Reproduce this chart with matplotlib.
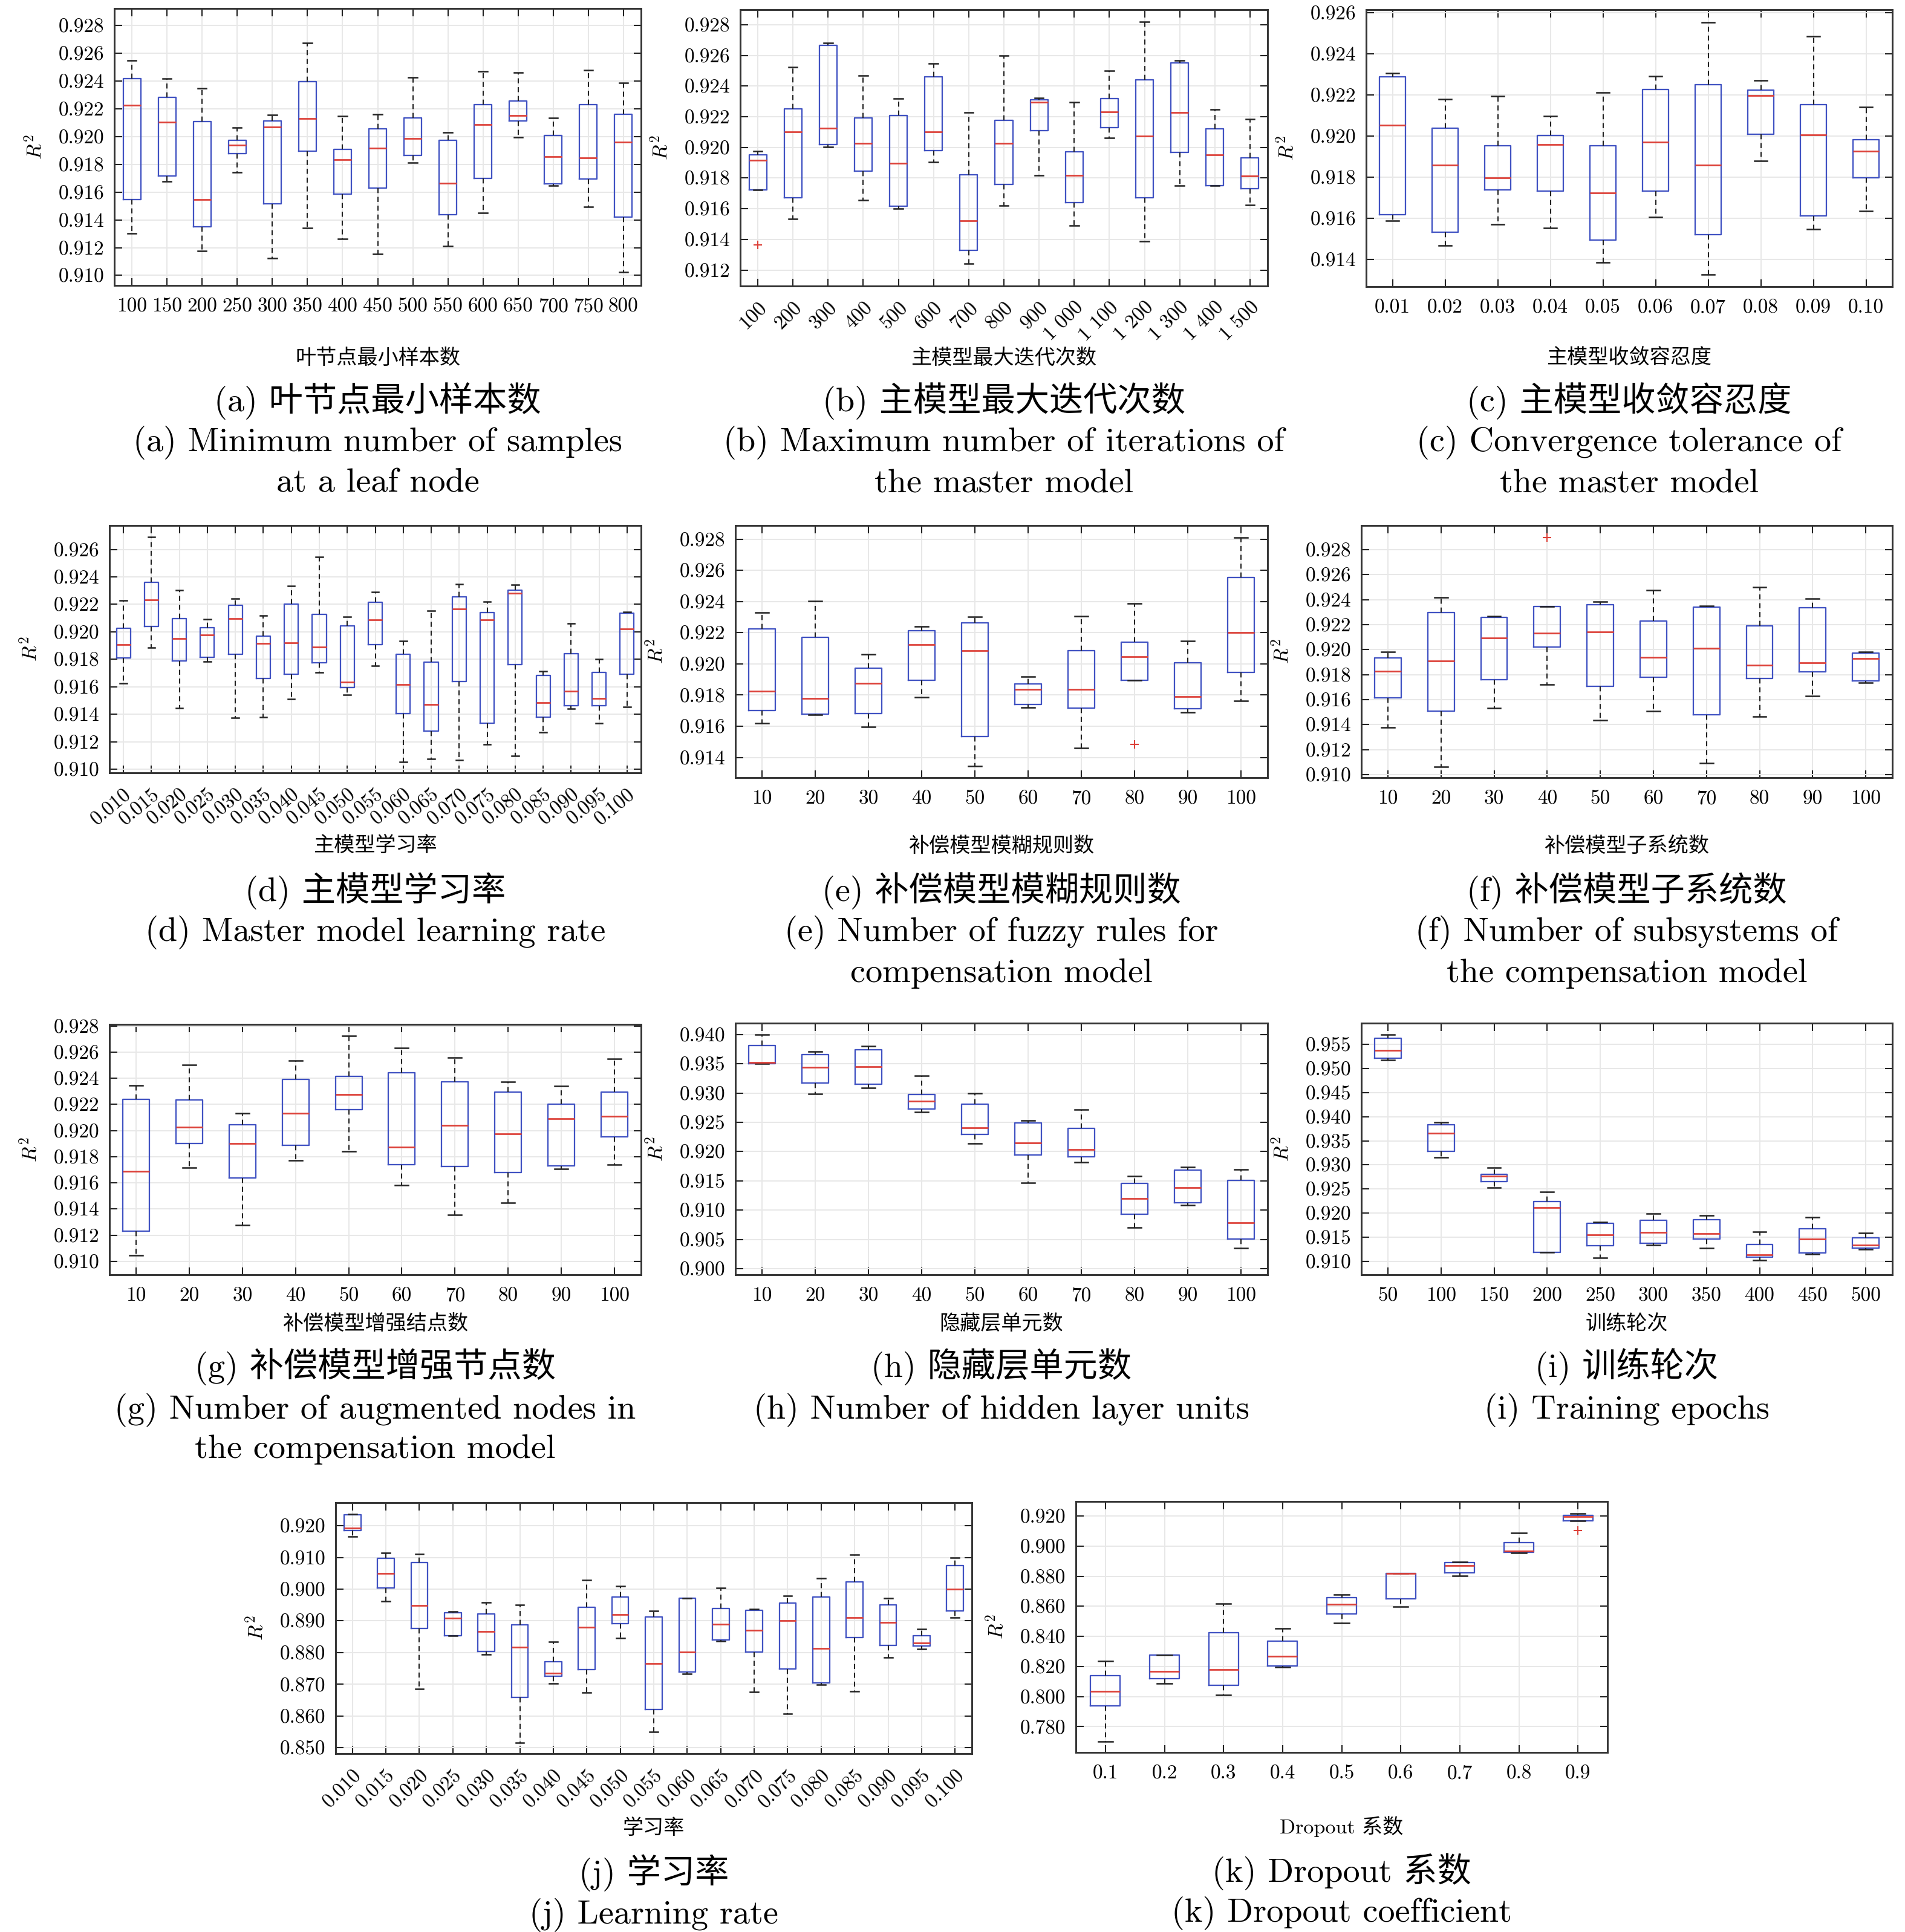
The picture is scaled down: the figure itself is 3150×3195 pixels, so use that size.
import matplotlib
matplotlib.use('Agg')
import matplotlib.pyplot as plt
import numpy as np

plt.rcParams['font.family'] = ['cmr10', 'Noto Sans CJK SC']
plt.rcParams['mathtext.fontset'] = 'cm'
plt.rcParams['axes.formatter.use_mathtext'] = True
plt.rcParams['axes.unicode_minus'] = False

# ---------------- data (box statistics) ----------------
# (a) min samples at leaf
A_LABELS = ['100', '150', '200', '250', '300', '350', '400', '450', '500', '550', '600', '650', '700', '750', '800']
A_LO = [0.91301, 0.91679, 0.91176, 0.91744, 0.91124, 0.91343, 0.91263, 0.91153, 0.91811, 0.91212, 0.91451, 0.91994, 0.91646, 0.91496, 0.91024]
A_Q1 = [0.91548, 0.91718, 0.91350, 0.91878, 0.91515, 0.91896, 0.91584, 0.91630, 0.91866, 0.91437, 0.91699, 0.92111, 0.91660, 0.91696, 0.91422]
A_MED = [0.92225, 0.92104, 0.91548, 0.91937, 0.92070, 0.92128, 0.91832, 0.91918, 0.91987, 0.91663, 0.92085, 0.92151, 0.91854, 0.91846, 0.91959]
A_Q3 = [0.92419, 0.92280, 0.92107, 0.91971, 0.92111, 0.92397, 0.91909, 0.92054, 0.92132, 0.91975, 0.92230, 0.92256, 0.92008, 0.92228, 0.92158]
A_HI = [0.92548, 0.92419, 0.92347, 0.92063, 0.92157, 0.92674, 0.92145, 0.92158, 0.92425, 0.92028, 0.92471, 0.92459, 0.92132, 0.92480, 0.92388]
A_FLIERS = {}

# (b) max iterations of master model
B_LABELS = ['100', '200', '300', '400', '500', '600', '700', '800', '900', '1 000', '1 100', '1 200', '1 300', '1 400', '1 500']
B_LO = [0.91722, 0.91535, 0.92002, 0.91654, 0.91599, 0.91905, 0.91242, 0.91620, 0.91816, 0.91490, 0.92064, 0.91386, 0.91749, 0.91749, 0.91623]
B_Q1 = [0.91722, 0.91671, 0.92017, 0.91844, 0.91616, 0.91981, 0.91328, 0.91757, 0.92108, 0.91641, 0.92131, 0.91673, 0.91967, 0.91752, 0.91729]
B_MED = [0.91916, 0.92100, 0.92125, 0.92027, 0.91896, 0.92100, 0.91521, 0.92025, 0.92296, 0.91816, 0.92231, 0.92073, 0.92226, 0.91950, 0.91813]
B_Q3 = [0.91950, 0.92253, 0.92667, 0.92192, 0.92209, 0.92459, 0.91822, 0.92178, 0.92309, 0.91972, 0.92317, 0.92440, 0.92552, 0.92122, 0.91933]
B_HI = [0.91974, 0.92522, 0.92683, 0.92468, 0.92317, 0.92549, 0.92226, 0.92600, 0.92324, 0.92295, 0.92499, 0.92819, 0.92568, 0.92246, 0.92184]
B_FLIERS = {0: [0.91364]}

# (c) convergence tolerance
C_LABELS = ['0.01', '0.02', '0.03', '0.04', '0.05', '0.06', '0.07', '0.08', '0.09', '0.10']
C_LO = [0.91588, 0.91470, 0.91571, 0.91553, 0.91385, 0.91606, 0.91327, 0.91880, 0.91549, 0.91636]
C_Q1 = [0.91618, 0.91532, 0.91738, 0.91732, 0.91495, 0.91732, 0.91521, 0.92008, 0.91613, 0.91798]
C_MED = [0.92054, 0.91858, 0.91798, 0.91959, 0.91725, 0.91972, 0.91859, 0.92198, 0.92006, 0.91926]
C_Q3 = [0.92289, 0.92039, 0.91953, 0.92002, 0.91952, 0.92225, 0.92250, 0.92224, 0.92154, 0.91982]
C_HI = [0.92306, 0.92180, 0.92195, 0.92097, 0.92212, 0.92292, 0.92552, 0.92269, 0.92486, 0.92141]
C_FLIERS = {}

# (d) master model learning rate
D_LABELS = ['0.010', '0.015', '0.020', '0.025', '0.030', '0.035', '0.040', '0.045', '0.050', '0.055',
            '0.060', '0.065', '0.070', '0.075', '0.080', '0.085', '0.090', '0.095', '0.100']
D_LO = [0.91627, 0.91884, 0.91447, 0.91784, 0.91373, 0.91381, 0.91509, 0.91705, 0.91541, 0.91755,
        0.91055, 0.91077, 0.91066, 0.91182, 0.91098, 0.91267, 0.91439, 0.91337, 0.91455]
D_Q1 = [0.91810, 0.92038, 0.91787, 0.91815, 0.91835, 0.91660, 0.91692, 0.91773, 0.91596, 0.91909,
        0.91406, 0.91276, 0.91638, 0.91333, 0.91760, 0.91381, 0.91461, 0.91461, 0.91691]
D_MED = [0.91906, 0.92234, 0.91949, 0.91977, 0.92096, 0.91916, 0.91921, 0.91890, 0.91636, 0.92089,
         0.91615, 0.91471, 0.92168, 0.92088, 0.92279, 0.91485, 0.91570, 0.91514, 0.92023]
D_Q3 = [0.92027, 0.92361, 0.92097, 0.92031, 0.92195, 0.91967, 0.92203, 0.92126, 0.92043, 0.92216,
        0.91837, 0.91778, 0.92253, 0.92141, 0.92303, 0.91683, 0.91843, 0.91704, 0.92134]
D_HI = [0.92227, 0.92690, 0.92304, 0.92091, 0.92243, 0.92117, 0.92335, 0.92547, 0.92108, 0.92292,
        0.91932, 0.92152, 0.92349, 0.92219, 0.92343, 0.91712, 0.92059, 0.91803, 0.92144]
D_FLIERS = {}

# (e) fuzzy rules of compensation model
E_LABELS = ['10', '20', '30', '40', '50', '60', '70', '80', '90', '100']
E_LO = [0.91619, 0.91673, 0.91595, 0.91786, 0.91342, 0.91719, 0.91461, 0.91896, 0.91688, 0.91762]
E_Q1 = [0.91700, 0.91676, 0.91680, 0.91895, 0.91534, 0.91739, 0.91718, 0.91896, 0.91714, 0.91947]
E_MED = [0.91825, 0.91777, 0.91876, 0.92123, 0.92084, 0.91838, 0.91835, 0.92046, 0.91789, 0.92200]
E_Q3 = [0.92224, 0.92169, 0.91971, 0.92212, 0.92263, 0.91870, 0.92085, 0.92139, 0.92006, 0.92556]
E_HI = [0.92331, 0.92402, 0.92061, 0.92242, 0.92301, 0.91917, 0.92306, 0.92390, 0.92146, 0.92813]
E_FLIERS = {7: [0.91485]}

# (f) subsystems of compensation model
F_LABELS = ['10', '20', '30', '40', '50', '60', '70', '80', '90', '100']
F_LO = [0.91375, 0.91063, 0.91533, 0.91720, 0.91436, 0.91510, 0.91092, 0.91463, 0.91628, 0.91734]
F_Q1 = [0.91616, 0.91510, 0.91757, 0.92019, 0.91704, 0.91780, 0.91477, 0.91769, 0.91822, 0.91748]
F_MED = [0.91825, 0.91908, 0.92094, 0.92130, 0.92144, 0.91940, 0.92010, 0.91875, 0.91896, 0.91931]
F_Q3 = [0.91934, 0.92297, 0.92256, 0.92344, 0.92362, 0.92230, 0.92341, 0.92191, 0.92334, 0.91971]
F_HI = [0.91984, 0.92418, 0.92269, 0.92344, 0.92385, 0.92478, 0.92351, 0.92501, 0.92409, 0.91984]
F_FLIERS = {3: [0.92895]}

# (g) augmented nodes of compensation model
G_LABELS = ['10', '20', '30', '40', '50', '60', '70', '80', '90', '100']
G_LO = [0.91048, 0.91718, 0.91279, 0.91771, 0.91843, 0.91583, 0.91358, 0.91450, 0.91709, 0.91741]
G_Q1 = [0.91230, 0.91900, 0.91640, 0.91888, 0.92162, 0.91738, 0.91726, 0.91681, 0.91732, 0.91951]
G_MED = [0.91689, 0.92028, 0.91899, 0.92133, 0.92278, 0.91875, 0.92039, 0.91976, 0.92093, 0.92111]
G_Q3 = [0.92241, 0.92234, 0.92043, 0.92393, 0.92415, 0.92443, 0.92373, 0.92293, 0.92204, 0.92295]
G_HI = [0.92344, 0.92500, 0.92134, 0.92535, 0.92725, 0.92634, 0.92557, 0.92375, 0.92339, 0.92550]
G_FLIERS = {}

# (h) hidden layer units
H_LABELS = ['10', '20', '30', '40', '50', '60', '70', '80', '90', '100']
H_LO = [0.93500, 0.92986, 0.93083, 0.92676, 0.92141, 0.91469, 0.91821, 0.90703, 0.91086, 0.90352]
H_Q1 = [0.93503, 0.93166, 0.93155, 0.92724, 0.92297, 0.91938, 0.91910, 0.90931, 0.91131, 0.90507]
H_MED = [0.93524, 0.93435, 0.93445, 0.92859, 0.92410, 0.92152, 0.92035, 0.91203, 0.91386, 0.90790]
H_Q3 = [0.93810, 0.93659, 0.93735, 0.92976, 0.92814, 0.92490, 0.92397, 0.91459, 0.91686, 0.91507]
H_HI = [0.94000, 0.93710, 0.93803, 0.93293, 0.93000, 0.92531, 0.92721, 0.91583, 0.91731, 0.91697]
H_FLIERS = {}

# (i) training epochs
I_LABELS = ['50', '100', '150', '200', '250', '300', '350', '400', '450', '500']
I_LO = [0.95170, 0.93150, 0.92535, 0.91188, 0.91079, 0.91343, 0.91280, 0.91029, 0.91155, 0.91247]
I_Q1 = [0.95211, 0.93279, 0.92656, 0.91188, 0.91326, 0.91381, 0.91464, 0.91088, 0.91171, 0.91272]
I_MED = [0.95375, 0.93656, 0.92773, 0.92112, 0.91548, 0.91598, 0.91577, 0.91138, 0.91464, 0.91339]
I_Q3 = [0.95621, 0.93836, 0.92811, 0.92242, 0.91795, 0.91853, 0.91866, 0.91356, 0.91678, 0.91494]
I_HI = [0.95705, 0.93882, 0.92941, 0.92447, 0.91816, 0.91987, 0.91958, 0.91615, 0.91912, 0.91590]
I_FLIERS = {}

# (j) learning rate
J_LABELS = D_LABELS
J_LO = [0.91657, 0.89616, 0.86844, 0.88529, 0.87938, 0.85153, 0.87016, 0.86736, 0.88453, 0.85496,
        0.87327, 0.88364, 0.86755, 0.86068, 0.86984, 0.86774, 0.87842, 0.88109, 0.89095]
J_Q1 = [0.91847, 0.90036, 0.88758, 0.88529, 0.88039, 0.86590, 0.87251, 0.87454, 0.88917, 0.86208,
        0.87384, 0.88395, 0.88008, 0.87486, 0.87035, 0.88472, 0.88236, 0.88198, 0.89317]
J_MED = [0.91924, 0.90500, 0.89495, 0.89076, 0.88656, 0.88173, 0.87346, 0.88802, 0.89209, 0.87645,
         0.88008, 0.88904, 0.88700, 0.89018, 0.88128, 0.89101, 0.88955, 0.88300, 0.90004]
J_Q3 = [0.92356, 0.90983, 0.90837, 0.89266, 0.89228, 0.88872, 0.87709, 0.89425, 0.89750, 0.89120,
        0.89711, 0.89387, 0.89330, 0.89571, 0.89750, 0.90239, 0.89514, 0.88535, 0.90741]
J_HI = [0.92375, 0.91142, 0.91104, 0.89304, 0.89590, 0.89501, 0.88344, 0.90283, 0.90093, 0.89311,
        0.89718, 0.90036, 0.89368, 0.89794, 0.90347, 0.91090, 0.89724, 0.88739, 0.90989]
J_FLIERS = {}

# (k) dropout coefficient
K_LABELS = ['0.1', '0.2', '0.3', '0.4', '0.5', '0.6', '0.7', '0.8', '0.9']
K_LO = [0.77022, 0.80867, 0.80103, 0.81939, 0.84886, 0.85958, 0.88021, 0.89548, 0.91692]
K_Q1 = [0.79380, 0.81189, 0.80733, 0.82033, 0.85476, 0.86507, 0.88235, 0.89589, 0.91692]
K_MED = [0.80345, 0.81671, 0.81805, 0.82676, 0.86146, 0.88168, 0.88718, 0.89682, 0.91960]
K_Q3 = [0.81403, 0.82756, 0.84243, 0.83694, 0.86561, 0.88168, 0.88892, 0.90218, 0.92040]
K_HI = [0.82354, 0.82756, 0.86186, 0.84511, 0.86775, 0.88168, 0.88959, 0.90888, 0.92147]
K_FLIERS = {8: [0.91049]}

W, H = 3150, 3195
fig = plt.figure(figsize=(W / 300, H / 300), dpi=300)

BOX_C = '#4052c2'
MED_C = '#dc4038'


def add_ax(x0, y0, x1, y1):
    # pixel box of the axes -> figure fraction
    ax = fig.add_axes([x0 / W, 1 - y1 / H, (x1 - x0) / W, (y1 - y0) / H])
    ax._px = (x0, y0, x1, y1)
    return ax


def draw_panel(ax, labels, lo, q1, med, q3, hi, fliers, yticks, ylim, rot=0):
    stats = []
    for i in range(len(labels)):
        stats.append(dict(med=med[i], q1=q1[i], q3=q3[i], whislo=lo[i], whishi=hi[i],
                          fliers=fliers.get(i, [])))
    pos = np.arange(1, len(labels) + 1)
    ax.bxp(stats, positions=pos, widths=0.5, showfliers=True,
           boxprops=dict(color=BOX_C, lw=0.55),
           medianprops=dict(color=MED_C, lw=0.65),
           whiskerprops=dict(color='#222222', lw=0.5, ls=(0, (4, 3))),
           capprops=dict(color='#222222', lw=0.6),
           flierprops=dict(marker='+', markeredgecolor=MED_C, markersize=3.5, markeredgewidth=0.5))
    ax.set_xlim(0.5, len(labels) + 0.5)
    ax.set_ylim(*ylim)
    ax.set_yticks(yticks)
    ax.set_yticklabels([f'{t:.3f}' for t in yticks])
    ax.set_xticks(pos)
    if rot:
        ax.set_xticklabels(labels, rotation=rot, ha='right', va='top', rotation_mode='anchor')
    else:
        ax.set_xticklabels(labels)
    ax.grid(True, color='#e8e8e8', lw=0.5)
    ax.set_axisbelow(True)
    ax.tick_params(direction='in', top=True, right=True, length=3, width=0.5, labelsize=8,
                   color='#222222')
    ax.tick_params(axis='x', pad=5)
    ax.tick_params(axis='y', pad=4)
    for sp in ax.spines.values():
        sp.set_color('#333333')
        sp.set_linewidth(0.7)
    ax.set_ylabel(r'$R^2$', fontsize=8)
    x0, y0, x1, y1 = ax._px
    ax.yaxis.set_label_coords(-114 / (x1 - x0), 0.5)


def caption(xc, y, text, size=13.5):
    fig.text(xc / W, 1 - y / H, text, ha='center', va='center', fontsize=size)


def xlab(ax, y, text):
    x0, y0, x1, y1 = ax._px
    fig.text((x0 + x1) / 2 / W, 1 - y / H, text, ha='center', va='center', fontsize=8.2)


def ticks(a, b, s):
    n = int(round((b - a) / s)) + 1
    return [round(a + k * s, 3) for k in range(n)]


# row 1
ax_a = add_ax(189, 14, 1060, 472)
draw_panel(ax_a, A_LABELS, A_LO, A_Q1, A_MED, A_Q3, A_HI, A_FLIERS, ticks(0.910, 0.928, 0.002), (0.90928, 0.92922))
ax_b = add_ax(1224, 16, 2096, 473)
draw_panel(ax_b, B_LABELS, B_LO, B_Q1, B_MED, B_Q3, B_HI, B_FLIERS, ticks(0.912, 0.928, 0.002), (0.91096, 0.92898), rot=45)
ax_c = add_ax(2259, 16, 3129, 474)
draw_panel(ax_c, C_LABELS, C_LO, C_Q1, C_MED, C_Q3, C_HI, C_FLIERS, ticks(0.914, 0.926, 0.002), (0.91269, 0.92614))

# row 2
ax_d = add_ax(181, 869, 1060, 1278)
draw_panel(ax_d, D_LABELS, D_LO, D_Q1, D_MED, D_Q3, D_HI, D_FLIERS, ticks(0.910, 0.926, 0.002), (0.90974, 0.92774), rot=40)
ax_e = add_ax(1216, 869, 2096, 1286)
draw_panel(ax_e, E_LABELS, E_LO, E_Q1, E_MED, E_Q3, E_HI, E_FLIERS, ticks(0.914, 0.928, 0.002), (0.91270, 0.92889))
ax_f = add_ax(2251, 869, 3129, 1286)
draw_panel(ax_f, F_LABELS, F_LO, F_Q1, F_MED, F_Q3, F_HI, F_FLIERS, ticks(0.910, 0.928, 0.002), (0.90975, 0.92994))

# row 3
ax_g = add_ax(181, 1694, 1060, 2108)
draw_panel(ax_g, G_LABELS, G_LO, G_Q1, G_MED, G_Q3, G_HI, G_FLIERS, ticks(0.910, 0.928, 0.002), (0.90898, 0.92812))
ax_h = add_ax(1216, 1692, 2096, 2108)
draw_panel(ax_h, H_LABELS, H_LO, H_Q1, H_MED, H_Q3, H_HI, H_FLIERS, ticks(0.900, 0.940, 0.005), (0.89897, 0.94193))
ax_i = add_ax(2251, 1692, 3129, 2108)
draw_panel(ax_i, I_LABELS, I_LO, I_Q1, I_MED, I_Q3, I_HI, I_FLIERS, ticks(0.910, 0.955, 0.005), (0.90724, 0.95939))

# row 4
ax_j = add_ax(555, 2485, 1607, 2900)
draw_panel(ax_j, J_LABELS, J_LO, J_Q1, J_MED, J_Q3, J_HI, J_FLIERS, ticks(0.850, 0.920, 0.010), (0.84810, 0.92731), rot=45)
ax_k = add_ax(1779, 2483, 2658, 2898)
draw_panel(ax_k, K_LABELS, K_LO, K_Q1, K_MED, K_Q3, K_HI, K_FLIERS, ticks(0.780, 0.920, 0.020), (0.76285, 0.92965))

# axis titles under each panel
xlab(ax_a, 592, '叶节点最小样本数')
xlab(ax_b, 592, '主模型最大迭代次数')
xlab(ax_c, 592, '主模型收敛容忍度')
xlab(ax_d, 1399, '主模型学习率')
xlab(ax_e, 1399, '补偿模型模糊规则数')
xlab(ax_f, 1399, '补偿模型子系统数')
xlab(ax_g, 2189, '补偿模型增强结点数')
xlab(ax_h, 2189, '隐藏层单元数')
xlab(ax_i, 2189, '训练轮次')
xlab(ax_j, 3023, '学习率')
xlab(ax_k, 3021, 'Dropout 系数')

# sub-captions
def cx(ax):
    return (ax._px[0] + ax._px[2]) / 2

caption(cx(ax_a), 663, '(a) 叶节点最小样本数')
caption(cx(ax_a), 732, '(a) Minimum number of samples')
caption(cx(ax_a), 800, 'at a leaf node')
caption(cx(ax_b), 663, '(b) 主模型最大迭代次数')
caption(cx(ax_b), 732, '(b) Maximum number of iterations of')
caption(cx(ax_b), 800, 'the master model')
caption(cx(ax_c), 663, '(c) 主模型收敛容忍度')
caption(cx(ax_c), 732, '(c) Convergence tolerance of')
caption(cx(ax_c), 800, 'the master model')

caption(cx(ax_d), 1473, '(d) 主模型学习率')
caption(cx(ax_d), 1542, '(d) Master model learning rate')
caption(cx(ax_e), 1473, '(e) 补偿模型模糊规则数')
caption(cx(ax_e), 1542, '(e) Number of fuzzy rules for')
caption(cx(ax_e), 1610, 'compensation model')
caption(cx(ax_f), 1473, '(f) 补偿模型子系统数')
caption(cx(ax_f), 1542, '(f) Number of subsystems of')
caption(cx(ax_f), 1610, 'the compensation model')

caption(cx(ax_g), 2260, '(g) 补偿模型增强节点数')
caption(cx(ax_g), 2332, '(g) Number of augmented nodes in')
caption(cx(ax_g), 2397, 'the compensation model')
caption(cx(ax_h), 2260, '(h) 隐藏层单元数')
caption(cx(ax_h), 2332, '(h) Number of hidden layer units')
caption(cx(ax_i), 2260, '(i) 训练轮次')
caption(cx(ax_i), 2332, '(i) Training epochs')

caption(cx(ax_j), 3097, '(j) 学习率')
caption(cx(ax_j), 3167, '(j) Learning rate')
caption(cx(ax_k), 3095, '(k) Dropout 系数')
caption(cx(ax_k), 3164, '(k) Dropout coefficient')

fig.savefig('out.png', dpi=300)
